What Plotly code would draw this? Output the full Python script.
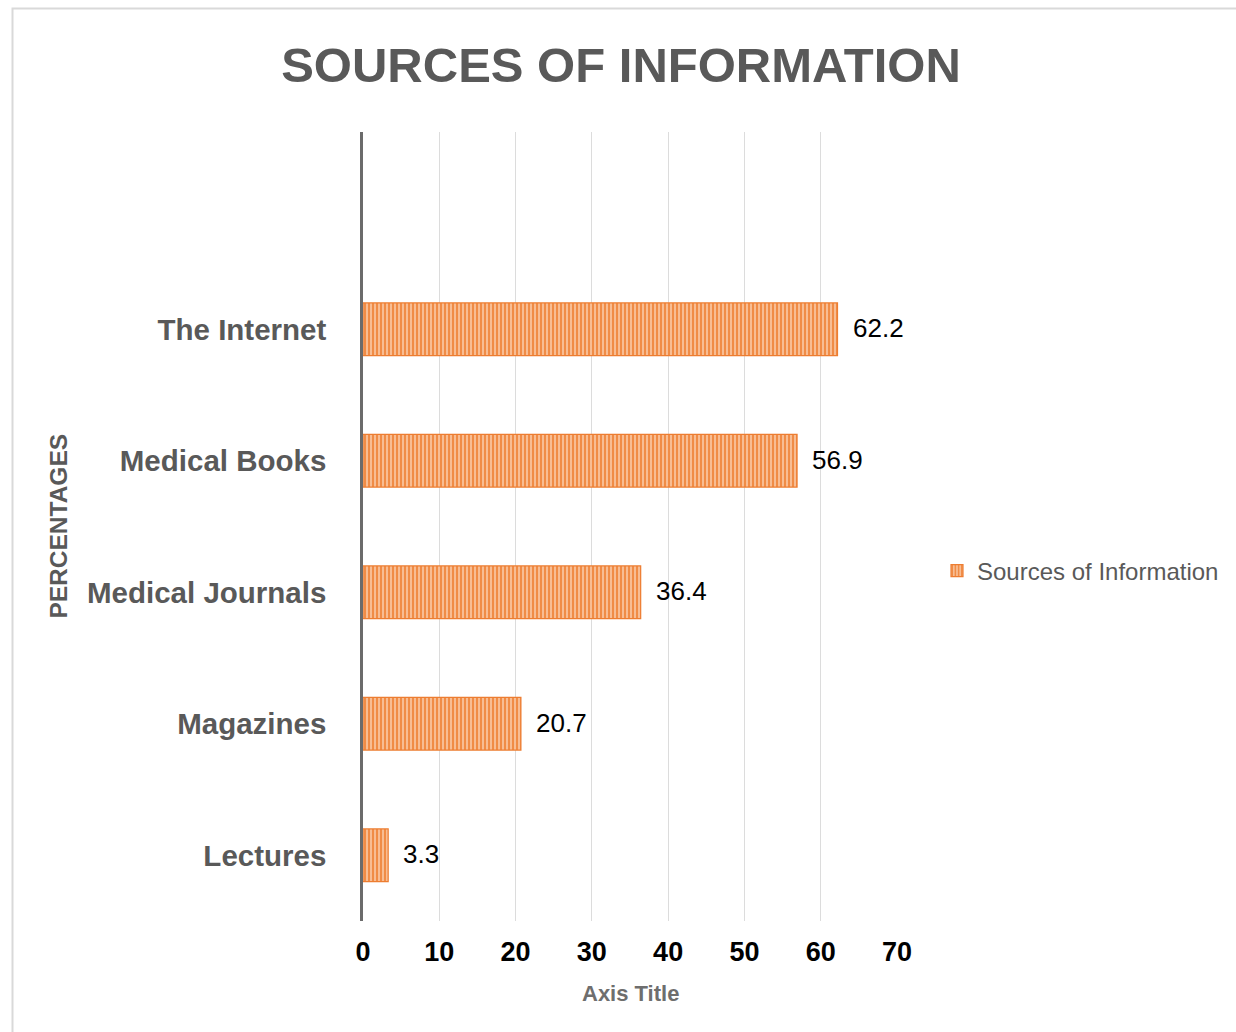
import plotly.graph_objects as go

# Survey results: share of respondents using each source (%)
categories = ["Lectures", "Magazines", "Medical Journals", "Medical Books", "The Internet"]
values = [3.3, 20.7, 36.4, 56.9, 62.2]
x_ticks = [0, 10, 20, 30, 40, 50, 60, 70]
series_name = "Sources of Information"

FONT = "Liberation Sans, Arial, Helvetica, sans-serif"
GRAY = "#595959"
ORANGE_LINE = "#ed7d31"

fig = go.Figure()

fig.add_trace(go.Bar(
    y=categories,
    x=values,
    orientation="h",
    name=series_name,
    width=0.4,
    marker=dict(
        color="#f8b88a",
        line=dict(color=ORANGE_LINE, width=1.2),
        pattern=dict(shape="|", fgcolor="#f08c46", bgcolor="#fac9a6",
                     size=4, solidity=0.6, fillmode="replace"),
    ),
    showlegend=True,
    hoverinfo="x+y",
))

# value labels just past the end of each bar
annotations = []
for cat, val in zip(categories, values):
    annotations.append(dict(
        x=val, y=cat, xref="x", yref="y", text=f"{val}",
        showarrow=False, xanchor="left", yanchor="middle", xshift=13, yshift=1,
        font=dict(family=FONT, size=26, color="#000000"),
    ))

# axis titles
annotations.append(dict(
    x=0.5, y=-0.0925, xref="paper", yref="paper", text="Axis Title",
    showarrow=False, xanchor="center", yanchor="middle",
    font=dict(family=FONT, size=22, color="#6e6e6e", weight=700),
))
annotations.append(dict(
    x=-0.571, y=0.5, xref="paper", yref="paper", text="PERCENTAGES",
    showarrow=False, xanchor="center", yanchor="middle", textangle=-90,
    font=dict(family=FONT, size=24.5, color=GRAY, weight=700),
))

fig.update_layout(
    width=1236,
    height=1032,
    autosize=False,
    paper_bgcolor="#ffffff",
    plot_bgcolor="#ffffff",
    margin=dict(l=363, r=339, t=132, b=111, pad=0, autoexpand=False),
    title=dict(
        text="SOURCES OF INFORMATION",
        x=621 / 1236, xref="container", xanchor="center",
        y=1 - 65 / 1032, yref="container", yanchor="middle",
        font=dict(family=FONT, size=49, color=GRAY, weight=700),
    ),
    xaxis=dict(
        range=[0, 70],
        tickvals=x_ticks,
        ticktext=[str(t) for t in x_ticks],
        showgrid=True, gridcolor="#dcdcdc", gridwidth=1.2,
        zeroline=False, showline=False,
        ticks="outside", ticklen=7, tickcolor="rgba(0,0,0,0)",
        tickfont=dict(family=FONT, size=27, color="#000000", weight=700),
        fixedrange=True,
    ),
    yaxis=dict(
        type="category",
        categoryorder="array", categoryarray=categories,
        range=[-0.5, 5.5],
        showgrid=False, zeroline=False,
        showline=True, linecolor="#6b6b6b", linewidth=2.5,
        ticks="outside", ticklen=28, tickcolor="rgba(0,0,0,0)",
        tickfont=dict(family=FONT, size=29.5, color=GRAY, weight=700),
        fixedrange=True,
    ),
    legend=dict(
        x=(937 - 363) / 534, xref="paper", xanchor="left",
        y=0.4436, yref="paper", yanchor="middle",
        font=dict(family=FONT, size=24, color=GRAY),
        bgcolor="rgba(0,0,0,0)", itemwidth=30,
    ),
    annotations=annotations,
    shapes=[dict(
        type="rect", xref="paper", yref="paper",
        x0=(12.5 - 363) / 534, x1=(1245 - 363) / 534,
        y0=(921 - 1045) / 789, y1=(921 - 8.5) / 789,
        line=dict(color="#d9d9d9", width=2), fillcolor="rgba(0,0,0,0)",
        layer="below",
    )],
    bargap=0.6,
)

fig.write_html("out.html")
